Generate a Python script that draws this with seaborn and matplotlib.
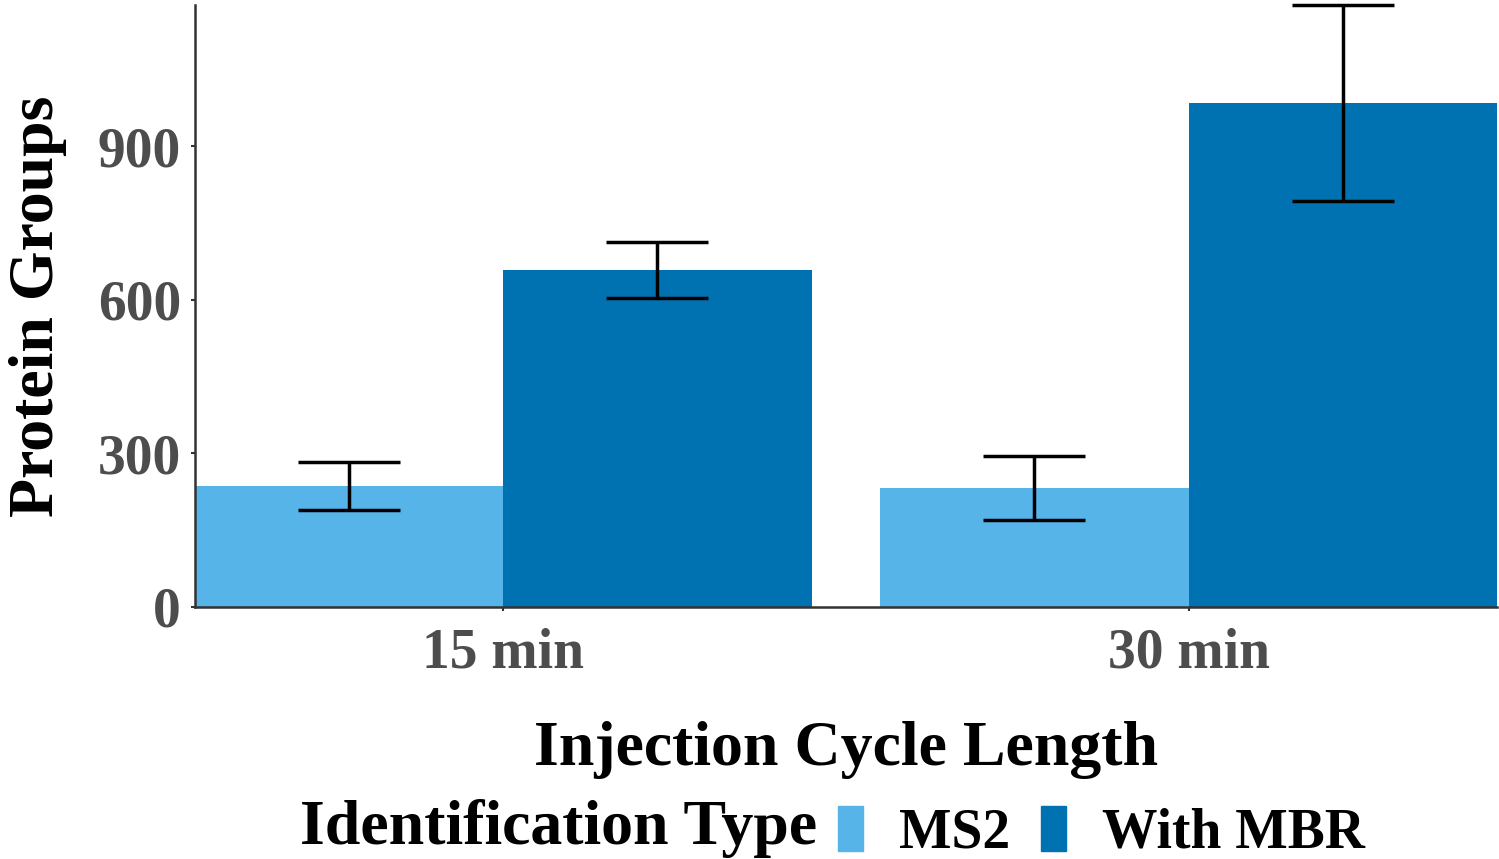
import pandas as pd
import matplotlib
matplotlib.use("Agg")
import matplotlib.pyplot as plt
import seaborn as sns

cycle = ["15 min", "15 min", "30 min", "30 min"]
id_type = ["MS2", "With MBR", "MS2", "With MBR"]
groups = [236, 658, 232, 984]
sd = [47, 55, 62, 192]

df = pd.DataFrame({"cycle": cycle, "type": id_type, "groups": groups, "sd": sd})
colors = {"MS2": "#56B4E9", "With MBR": "#0072B2"}

sns.set_style("ticks")
plt.rcParams["font.family"] = ["Liberation Serif", "DejaVu Serif"]
plt.rcParams["font.weight"] = "bold"
plt.rcParams["text.color"] = "black"
plt.rcParams["axes.labelcolor"] = "black"

fig = plt.figure(figsize=(14.99, 8.59), dpi=100)
ax = fig.add_axes([0.130, 0.2934, 0.8687, 0.7006])

sns.barplot(data=df, x="cycle", y="groups", hue="type", palette=colors,
            width=0.9, errorbar=None, saturation=1, linewidth=0, ax=ax, legend=False)

# error bars at the centre of each bar
for p in ax.patches:
    h = p.get_height()
    if h == 0:
        continue
    xc = p.get_x() + p.get_width() / 2
    row = df[(df["groups"] == round(h))]
    ax.errorbar(xc, h, yerr=row["sd"].values[0], color="black", lw=2.5,
                capsize=37, capthick=2.5, clip_on=False)

ax.set_xlim(-0.45, 1.45)
ax.set_ylim(0, 1175)
ax.set_yticks([0, 300, 600, 900])
ax.tick_params(axis="both", length=3, width=1.5, colors="#333333",
               labelsize=40, labelcolor="#4D4D4D")
ax.tick_params(axis="x", pad=12)
ax.tick_params(axis="y", pad=7)
for lab in ax.get_xticklabels() + ax.get_yticklabels():
    lab.set_fontweight("bold")
sns.despine(ax=ax)
for s in ["left", "bottom"]:
    ax.spines[s].set_color("#333333")
    ax.spines[s].set_linewidth(1.8)

ax.set_xlabel("Injection Cycle Length", fontsize=46, fontweight="bold", labelpad=30)
ax.set_ylabel("Protein Groups", fontsize=46, fontweight="bold", labelpad=22)

handles = [plt.Rectangle((0, 0), 1, 1, color=colors[k]) for k in ["MS2", "With MBR"]]
fig.text(0.200, 0.036, "Identification Type", fontsize=46, fontweight="bold",
         va="center", ha="left")
fig.legend(handles, ["MS2", "With MBR"], loc="center left",
           bbox_to_anchor=(0.559, 0.031), ncol=2, frameon=False,
           prop={"size": 40, "weight": "bold"}, handlelength=0.45,
           handleheight=0.87, handletextpad=0.65, columnspacing=0.55,
           borderaxespad=0, borderpad=0)

fig.savefig("out.png", dpi=100)
